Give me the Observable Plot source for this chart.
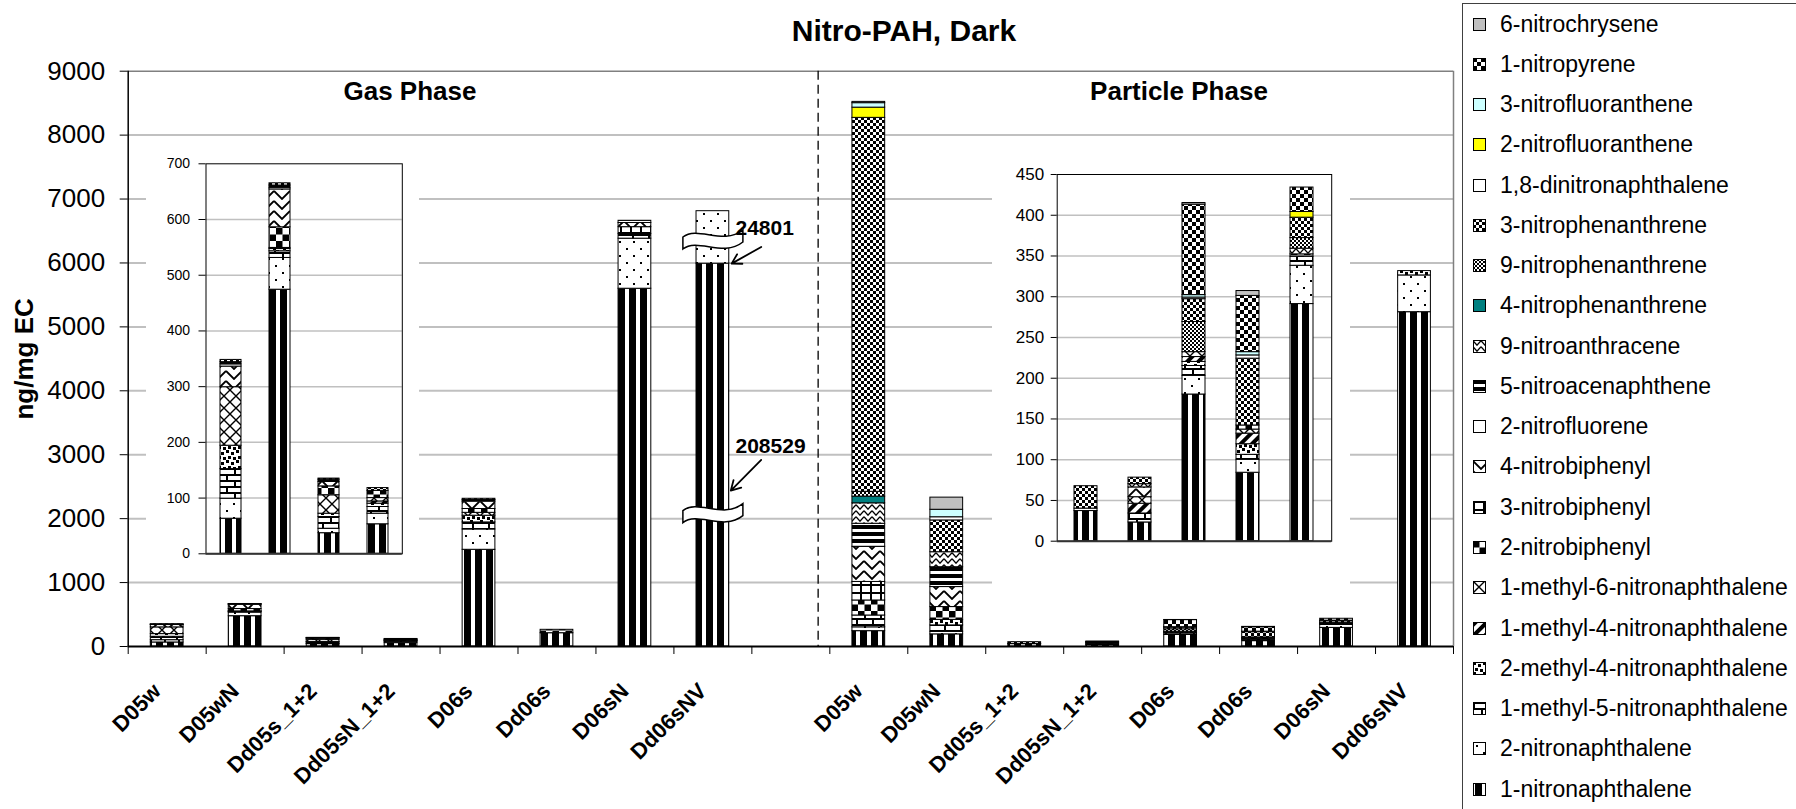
<!DOCTYPE html>
<html>
<head>
<meta charset="utf-8">
<script src="https://cdn.jsdelivr.net/npm/d3@7"></script>
<script src="https://cdn.jsdelivr.net/npm/@observablehq/plot@0.6"></script>
<style>
  html, body { margin: 0; padding: 0; background: #fff; }
  #wrap { position: relative; width: 1796px; height: 809px; overflow: hidden; background: #fff;
          font-family: "Liberation Sans", Arial, sans-serif; color: #000; }
  .abs { position: absolute; }
  #title { left: 6px; width: 1796px; top: 16px; text-align: center; font-weight: bold; font-size: 30px; line-height: 30px; }
  .phase { width: 300px; text-align: center; font-weight: bold; font-size: 26px; line-height: 26px; top: 78px; }
  #legend { left: 1462px; top: 3px; width: 360px; height: 830px; border: 1px solid #404040; background: #fff; box-sizing: border-box; }
  .item { position: absolute; left: 10px; height: 26px; display: flex; align-items: center; font-size: 23px; white-space: nowrap; }
  .item svg { margin-right: 14px; flex: none; }
</style>
</head>
<body>
<div id="wrap">
  <svg width="0" height="0" style="position:absolute"><defs id="patterns"></defs></svg>
  <div id="main" class="abs" style="left:0;top:0"></div>
  <div id="title" class="abs">Nitro-PAH, Dark</div>
  <div class="abs phase" style="left:260px">Gas Phase</div>
  <div class="abs phase" style="left:1029px">Particle Phase</div>
  <div id="gasInset" class="abs" style="left:146px;top:150px"></div>
  <div id="partInset" class="abs" style="left:992px;top:158px"></div>
  <div id="legend" class="abs"></div>
</div>
<script>
// Samples (same order in both phases)
const samples = ["D05w", "D05wN", "Dd05s_1+2", "Dd05sN_1+2", "D06s", "Dd06s", "D06sN", "Dd06sNV"];
const phases = ["Gas", "Particle"];

// ng/mg EC per compound: 8 gas-phase values, then 8 particle-phase values
const nitronaphthalene1   = [63, 474, 37, 53, 1513, 208, 5597, 208529,   240, 190, 37, 23, 180, 84, 291, 5230];
const nitronaphthalene2   = [36, 57, 8, 19, 318, 0, 783, 24801,          60, 40, 3, 0, 23, 16, 47, 575];
const methyl1nitro5       = [53, 12, 21, 12, 110, 0, 75, 0,              185, 100, 0, 11, 12, 6, 11, 0];
const methyl2nitro4       = [42, 4, 6, 6, 105, 0, 0, 0,                  0, 87, 0, 0, 5, 13, 0, 68];
const methyl1nitro4       = [0, 0, 0, 4, 0, 0, 0, 0,                     0, 0, 0, 12, 6, 13, 0, 0];
const methyl1nitro6       = [105, 2, 33, 6, 45, 0, 0, 0,                 0, 0, 0, 8, 6, 5, 0, 0];
const nitrobiphenyl2      = [0, 37, 16, 13, 60, 53, 0, 0,                235, 200, 0, 0, 0, 5, 3, 0];
const nitrobiphenyl3      = [0, 0, 0, 0, 0, 0, 105, 0,                   290, 0, 0, 0, 0, 0, 0, 0];
const nitrobiphenyl4      = [37, 68, 8, 0, 115, 0, 65, 0,                550, 313, 0, 12, 0, 0, 0, 0];
const nitrofluorene2      = [4, 3, 0, 0, 0, 0, 0, 0,                     0, 0, 0, 0, 0, 0, 0, 0];
const nitroacenaphthene5  = [4, 4, 4, 0, 25, 0, 35, 0,                   360, 310, 0, 0, 0, 0, 0, 0];
const nitroanthracene9    = [0, 0, 0, 0, 0, 0, 0, 0,                     320, 235, 0, 4, 0, 0, 7, 0];
const nitrophenanthrene4  = [0, 0, 0, 0, 0, 0, 0, 0,                     105, 0, 0, 0, 0, 0, 0, 0];
const nitrophenanthrene9  = [0, 0, 0, 0, 0, 0, 0, 0,                     75, 0, 0, 0, 37, 0, 13, 0];
const nitrophenanthrene3  = [4, 4, 2, 5, 20, 0, 0, 0,                    5850, 497, 27.5, 8, 28, 82, 25, 0];
const dinitronaphthalene18= [0, 0, 0, 0, 0, 0, 0, 0,                     0, 50, 0, 0, 2, 4, 0, 0];
const nitrofluoranthene2  = [0, 0, 0, 0, 0, 0, 0, 0,                     160, 0, 0, 0, 0, 0, 7, 0];
const nitrofluoranthene3  = [0, 0, 0, 0, 0, 0, 0, 0,                     70, 117, 0, 0, 3, 4, 0, 0];
const nitropyrene1        = [0, 0, 0, 0, 0, 0, 0, 0,                     0, 0, 0, 0, 111, 69, 30, 0];
const nitrochrysene6      = [0, 0, 0, 0, 0, 0, 0, 0,                     20, 190, 0, 0, 2, 6, 0, 0];

// Stacking order, bottom to top
const seriesList = [
  ["1-nitronaphthalene", nitronaphthalene1],
  ["2-nitronaphthalene", nitronaphthalene2],
  ["1-methyl-5-nitronaphthalene", methyl1nitro5],
  ["2-methyl-4-nitronaphthalene", methyl2nitro4],
  ["1-methyl-4-nitronaphthalene", methyl1nitro4],
  ["1-methyl-6-nitronaphthalene", methyl1nitro6],
  ["2-nitrobiphenyl", nitrobiphenyl2],
  ["3-nitrobiphenyl", nitrobiphenyl3],
  ["4-nitrobiphenyl", nitrobiphenyl4],
  ["2-nitrofluorene", nitrofluorene2],
  ["5-nitroacenaphthene", nitroacenaphthene5],
  ["9-nitroanthracene", nitroanthracene9],
  ["4-nitrophenanthrene", nitrophenanthrene4],
  ["9-nitrophenanthrene", nitrophenanthrene9],
  ["3-nitrophenanthrene", nitrophenanthrene3],
  ["1,8-dinitronaphthalene", dinitronaphthalene18],
  ["2-nitrofluoranthene", nitrofluoranthene2],
  ["3-nitrofluoranthene", nitrofluoranthene3],
  ["1-nitropyrene", nitropyrene1],
  ["6-nitrochrysene", nitrochrysene6]
];
const seriesNames = seriesList.map(d => d[0]);

// The gas-phase Dd06sNV bar is drawn with a broken axis: heights shown for its two segments
const brokenSample = "Dd06sNV";
const brokenShown = {"1-nitronaphthalene": 5990, "2-nitronaphthalene": 820};
const breakMarks = [{slot: 7.5, y: 6390}, {slot: 7.5, y: 2110}];

// Inset panels
const gasInsetSamples = ["D05w", "D05wN", "Dd05s_1+2", "Dd05sN_1+2"];
const partInsetSamples = ["Dd05s_1+2", "Dd05sN_1+2", "D06s", "Dd06s", "D06sN"];

// Fill patterns (hatches drawn in black on white, or plain colours)
const patternDefs = {
  "1-nitronaphthalene": [11, 10, '<rect width="11" height="10" fill="#fff"/><rect x="2" width="7" height="10" fill="#000"/>'],
  "2-nitronaphthalene": [14, 14, '<rect width="14" height="14" fill="#fff"/><rect x="3" y="3" width="2" height="2" fill="#000"/><rect x="10" y="10" width="2" height="2" fill="#000"/>'],
  "1-methyl-5-nitronaphthalene": [16, 12, '<rect width="16" height="12" fill="#fff"/><rect width="16" height="2" fill="#000"/><rect y="6" width="16" height="2" fill="#000"/><rect y="2" width="2" height="4" fill="#000"/><rect x="8" y="8" width="2" height="4" fill="#000"/>'],
  "2-methyl-4-nitronaphthalene": [10, 10, '<rect width="10" height="10" fill="#fff"/><rect width="3" height="3" fill="#000"/><rect x="5" y="2" width="3" height="3" fill="#000"/><rect x="2" y="6" width="3" height="3" fill="#000"/><rect x="7" y="7" width="3" height="3" fill="#000"/>'],
  "1-methyl-4-nitronaphthalene": [8, 8, '<rect width="8" height="8" fill="#fff"/><rect width="4" height="8" fill="#000"/>', 'rotate(45)'],
  "1-methyl-6-nitronaphthalene": [12, 12, '<rect width="12" height="12" fill="#fff"/><path d="M0,0L12,12M12,0L0,12" stroke="#000" stroke-width="1.4"/>'],
  "2-nitrobiphenyl": [13, 13, '<rect width="13" height="13" fill="#fff"/><rect width="6.5" height="6.5" fill="#000"/><rect x="6.5" y="6.5" width="6.5" height="6.5" fill="#000"/>'],
  "3-nitrobiphenyl": [10, 8, '<rect width="10" height="8" fill="#fff"/><rect width="10" height="2" fill="#000"/><rect width="2" height="8" fill="#000"/>'],
  "4-nitrobiphenyl": [16, 10, '<rect width="16" height="10" fill="#fff"/><path d="M0,1L8,9L16,1" fill="none" stroke="#000" stroke-width="1.8"/>'],
  "2-nitrofluorene": null,
  "5-nitroacenaphthene": [8, 7, '<rect width="8" height="7" fill="#fff"/><rect width="8" height="4" fill="#000"/>'],
  "9-nitroanthracene": [8, 6, '<rect width="8" height="6" fill="#fff"/><path d="M0,0.8L4,5.2L8,0.8" fill="none" stroke="#000" stroke-width="1.3"/>'],
  "4-nitrophenanthrene": null,
  "9-nitrophenanthrene": [4, 4, '<rect width="4" height="4" fill="#fff"/><rect width="2" height="2" fill="#000"/><rect x="2" y="2" width="2" height="2" fill="#000"/>'],
  "3-nitrophenanthrene": [6, 6, '<rect width="6" height="6" fill="#fff"/><rect width="3" height="3" fill="#000"/><rect x="3" y="3" width="3" height="3" fill="#000"/>'],
  "1,8-dinitronaphthalene": null,
  "2-nitrofluoranthene": null,
  "3-nitrofluoranthene": null,
  "1-nitropyrene": [8, 8, '<rect width="8" height="8" fill="#fff"/><rect width="4" height="4" fill="#000"/><rect x="4" y="4" width="4" height="4" fill="#000"/>'],
  "6-nitrochrysene": null
};
const plainFills = {
  "2-nitrofluorene": "#ffffff",
  "4-nitrophenanthrene": "#008080",
  "1,8-dinitronaphthalene": "#ffffff",
  "2-nitrofluoranthene": "#ffff00",
  "3-nitrofluoranthene": "#ccffff",
  "6-nitrochrysene": "#c0c0c0"
};

const defs = document.getElementById("patterns");
const fills = seriesNames.map((name, i) => {
  const p = patternDefs[name];
  if (!p) return plainFills[name];
  const [w, h, body, tf] = p;
  defs.insertAdjacentHTML("beforeend",
    `<pattern id="pat-${i}" patternUnits="userSpaceOnUse" width="${w}" height="${h}"${tf ? ` patternTransform="${tf}"` : ""}>${body}</pattern>`);
  return `url(#pat-${i})`;
});
const colorScale = {type: "ordinal", domain: seriesNames, range: fills};
const font = "'Liberation Sans', Arial, sans-serif";

// Long-format rows for the main chart: slot 0-7 gas, slot 8 empty, slot 9-16 particle
const rows = [];
for (const [name, values] of seriesList) {
  values.forEach((value, k) => {
    if (!(value > 0)) return;
    const phase = k < 8 ? 0 : 1;
    const j = k % 8;
    const sample = samples[j];
    const broken = phase === 0 && sample === brokenSample && name in brokenShown;
    rows.push({series: name, phase: phases[phase], sample, slot: phase * 9 + j, value, shown: broken ? brokenShown[name] : value});
  });
}
const labelRows = [];
phases.forEach((p, pi) => samples.forEach((s, j) => labelRows.push({sample: s, slot: pi * 9 + j})));

const half = 0.21;          // half bar width, in slots
const phaseDivider = 8.85;  // dashed line between the two phases

const brokenIdx = samples.indexOf(brokenSample);
const callouts = [
  {label: String(nitronaphthalene2[brokenIdx]), tx: 7.79, ty: 6540, x1: 8.12, y1: 6250, x2: 7.74, y2: brokenShown["1-nitronaphthalene"]},
  {label: String(nitronaphthalene1[brokenIdx]), tx: 7.79, ty: 3140, x1: 8.12, y1: 2920, x2: 7.73, y2: 2440}
];

// Wavy ribbon used to mark the axis break on a bar
const breakSymbol = {
  draw(ctx) {
    ctx.moveTo(-30, -1);
    ctx.bezierCurveTo(-15, -13, 10, 8, 30, -8);
    ctx.lineTo(30, 4);
    ctx.bezierCurveTo(10, 20, -15, -1, -30, 11);
    ctx.closePath();
  }
};

const main = Plot.plot({
  width: 1462, height: 809,
  marginLeft: 127.7, marginRight: 9, marginTop: 70.7, marginBottom: 163,
  style: {fontFamily: font, background: "transparent", overflow: "visible"},
  x: {type: "linear", domain: [0, 17]},
  y: {domain: [0, 9000]},
  color: colorScale,
  marks: [
    Plot.gridY({ticks: d3.range(1000, 9000, 1000), stroke: "#c0c0c0", strokeOpacity: 1, strokeWidth: 2}),
    Plot.ruleY([9000], {stroke: "#808080", strokeWidth: 1.5}),
    Plot.ruleX([17], {stroke: "#808080", strokeWidth: 1.5}),
    Plot.rectY(rows, {x1: d => d.slot + 0.5 - half, x2: d => d.slot + 0.5 + half, y: "shown", fill: "series", stroke: "#000", strokeWidth: 1}),
    Plot.ruleX([phaseDivider], {stroke: "#000", strokeWidth: 1.3, strokeDasharray: "9,5"}),
    Plot.ruleY([0], {stroke: "#000", strokeWidth: 2}),
    Plot.ruleX([0], {stroke: "#000", strokeWidth: 1.5}),
    Plot.axisY({ticks: d3.range(0, 9001, 1000), tickSize: 8, tickPadding: 15, fontSize: 26, label: null, tickFormat: d3.format("d")}),
    Plot.axisX({ticks: d3.range(0, 18), tickSize: 8, tickFormat: () => "", label: null}),
    Plot.text(labelRows, {x: d => d.slot + 0.5, y: 0, text: "sample", rotate: -45, textAnchor: "end", lineAnchor: "middle", dx: -10, dy: 41, fontSize: 22, fontWeight: "bold"}),
    Plot.text(["ng/mg EC"], {text: d => d, frameAnchor: "left", dx: -104, rotate: -90, textAnchor: "middle", lineAnchor: "middle", fontSize: 26, fontWeight: "bold"}),
    Plot.dot(breakMarks, {x: "slot", y: "y", symbol: breakSymbol, r: 10, fill: "#fff", stroke: "#000", strokeWidth: 1.5}),
    Plot.arrow(callouts, {x1: "x1", y1: "y1", x2: "x2", y2: "y2", stroke: "#000", strokeWidth: 1.8, headLength: 9}),
    Plot.text(callouts, {x: "tx", y: "ty", text: "label", textAnchor: "start", lineAnchor: "middle", fontSize: 21, fontWeight: "bold"})
  ]
});
document.getElementById("main").append(main);

function inset({phase, keys, max, step, width, height, margins, fontSize, tickSize, tickPadding}) {
  const data = rows.filter(d => d.phase === phase && keys.includes(d.sample));
  return Plot.plot({
    width, height,
    marginLeft: margins[0], marginRight: margins[1], marginTop: margins[2], marginBottom: margins[3],
    style: {fontFamily: font, background: "#fff"},
    x: {type: "band", domain: keys, paddingInner: 0.57, paddingOuter: 0.285, axis: null},
    y: {domain: [0, max]},
    color: colorScale,
    marks: [
      Plot.gridY({ticks: d3.range(step, max, step), stroke: "#c0c0c0", strokeOpacity: 1, strokeWidth: 1.5}),
      Plot.axisY({ticks: d3.range(0, max + 1, step), tickSize, tickPadding, fontSize, label: null}),
      Plot.barY(data, {x: "sample", y: "value", fill: "series", stroke: "#000", strokeWidth: 1}),
      Plot.frame({stroke: "#000", strokeWidth: 1}),
      Plot.ruleY([0], {stroke: "#333", strokeWidth: 2})
    ]
  });
}

document.getElementById("gasInset").append(inset({
  phase: "Gas", keys: gasInsetSamples, max: 700, step: 100,
  width: 273, height: 422, margins: [59.5, 17.2, 13.3, 18.7], fontSize: 14, tickSize: 7, tickPadding: 9
}));
document.getElementById("partInset").append(inset({
  phase: "Particle", keys: partInsetSamples, max: 450, step: 50,
  width: 358, height: 437, margins: [64.7, 18.8, 16, 54.3], fontSize: 17, tickSize: 6, tickPadding: 7
}));

// Legend: top entry is the top of the stack
const legend = document.getElementById("legend");
seriesNames.slice().reverse().forEach((name, i) => {
  const fill = fills[seriesNames.indexOf(name)];
  const item = document.createElement("div");
  item.className = "item";
  item.style.top = (20 + i * 40.27 - 13) + "px";
  item.innerHTML = `<svg width="13" height="13"><rect x="0.5" y="0.5" width="12" height="12" fill="${fill}" stroke="#000" stroke-width="1"/></svg><span>${name}</span>`;
  legend.append(item);
});
</script>
</body>
</html>
